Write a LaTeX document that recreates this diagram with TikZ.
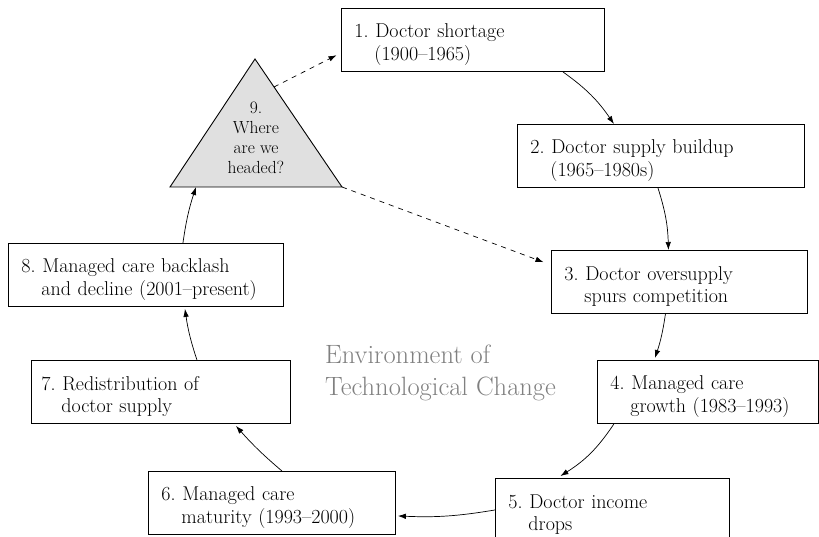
\documentclass[tikz,border=0pt]{standalone}
\usepackage{fontspec}
\usepackage{xcolor}
\usepackage{tikz}
\usetikzlibrary{arrows.meta}

\definecolor{envgray}{gray}{0.5}
\definecolor{trifill}{gray}{0.88}

% two-line label, second line hanging in
\newcommand{\stagelabel}[2]{\rule{0pt}{23pt}#1\\\hspace*{20pt}#2}

\begin{document}
\frenchspacing
\begin{tikzpicture}[x=1pt, y=-1pt,
    stage/.style={draw, line width=0.9pt, anchor=north west, align=left,
      inner xsep=13pt, inner ysep=0pt, minimum height=63pt,
      font=\fontsize{20}{22.5}\selectfont},
    flow/.style={-{Latex[length=8pt,width=5.5pt]}, line width=0.7pt},
    guess/.style={flow, dash pattern=on 5pt off 5pt}]
\useasboundingbox (0,0) rectangle (819,537);

\node[stage, text width=237pt] (b1) at (341,8) {\stagelabel{1. Doctor shortage}{(1900--1965)}};
\node[stage, text width=261pt] (b2) at (517,124) {\stagelabel{2. Doctor supply buildup}{(1965--1980s)}};
\node[stage, text width=230pt] (b3) at (551,250) {\stagelabel{3. Doctor oversupply}{spurs competition}};
\node[stage, text width=195pt] (b4) at (597,360) {\stagelabel{4. Managed care}{growth (1983--1993)}};
\node[stage, text width=208pt] (b5) at (495,478) {\stagelabel{5. Doctor income}{drops}};
\node[stage, text width=221pt] (b6) at (148,471) {\stagelabel{6. Managed care}{maturity (1993--2000)}};
\node[stage, text width=239pt, inner xsep=10pt] (b7) at (31,360) {\stagelabel{7. Redistribution of}{doctor supply}};
\node[stage, text width=249pt] (b8) at (8,243) {\stagelabel{8. Managed care backlash}{and decline (2001--present)}};

% the open question at the top of the cycle
\coordinate (tri-top) at (255,59);
\coordinate (tri-left) at (170,187);
\coordinate (tri-right) at (342,187);
\coordinate (tri-in) at (196,187);
\coordinate (tri-out) at (274,87);
\draw[line width=0.9pt, fill=trifill] (tri-top) -- (tri-right) -- (tri-left) -- cycle;
\node[align=center, font=\fontsize{17.5}{20}\selectfont] (b9) at (256,138) {9.\\Where\\are we\\headed?};

\node[anchor=north west, align=left, inner sep=0pt, text=envgray,
  font=\fontsize{26.5}{32}\selectfont] (env) at (325,345) {Environment of\\Technological Change};

% the cycle
\draw[flow] ([xshift=90]b1.south) to[bend left=10] ([xshift=-47]b2.north);
\draw[flow] ([xshift=-3]b2.south) to[bend left=8] ([xshift=-11]b3.north);
\draw[flow] ([xshift=-14]b3.south) to[bend left=5] ([xshift=-53,yshift=2]b4.north);
\draw[flow] ([xshift=-94]b4.south) to[bend left=12] ([xshift=-52,yshift=2]b5.north);
\draw[flow] (b5.west) to[bend left=6] ([xshift=2,yshift=-13]b6.east);
\draw[flow] ([xshift=10]b6.north) to[bend left=4] ([xshift=75,yshift=-2]b7.south);
\draw[flow] ([xshift=36]b7.north) to[bend left=5] ([xshift=39,yshift=-2]b8.south);
\draw[flow] ([xshift=37]b8.north) to[bend left=5] (tri-in);

% where it may lead
\draw[guess, shorten >=5pt] (tri-out) -- ([yshift=-13]b1.west);
\draw[guess, shorten >=8pt] (tri-right) -- ([yshift=17]b3.west);
\end{tikzpicture}
\end{document}
